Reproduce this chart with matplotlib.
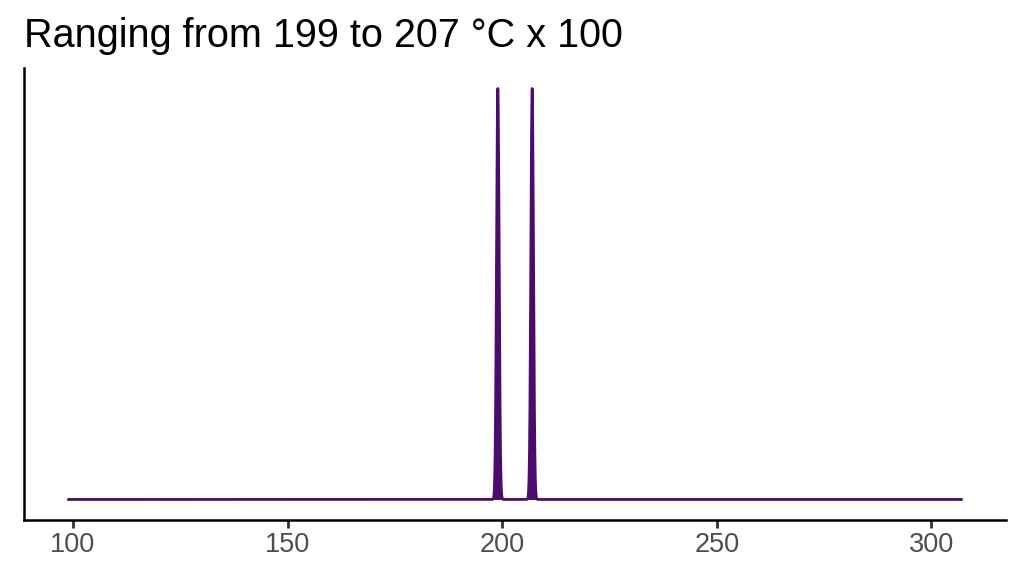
import numpy as np
import matplotlib as mpl
from matplotlib import pyplot as plt

# data: readings in degrees C, drawn as a density
temps = [199, 207]
n_each = 100
x_range = [99, 307]
x_ticks = [100, 150, 200, 250, 300]
title = 'Ranging from 199 to 207 °C x 100'

fill_col = '#4B0C6B'

plt.rcParams['font.family'] = ['Liberation Sans', 'DejaVu Sans']

samples = np.repeat(np.array(temps, dtype=float), n_each)
grid = np.linspace(x_range[0], x_range[1], 4001)
bw = 0.3
dens = np.exp(-0.5 * ((grid[:, None] - samples[None, :]) / bw) ** 2).sum(axis=1)
dens /= len(samples) * bw * np.sqrt(2 * np.pi)

fig = plt.figure(figsize=(10.24, 5.76), dpi=100)
ax = fig.add_axes([24 / 1024, 1 - 520 / 576, (1006 - 24) / 1024, (520 - 68) / 576])

ax.fill_between(grid, 0, dens, color=fill_col, linewidth=0)
ax.plot(grid, dens, color=fill_col, linewidth=2)

span = x_range[1] - x_range[0]
ax.set_xlim(x_range[0] - 0.05 * span, x_range[1] + 0.05 * span)
top = dens.max()
ax.set_ylim(-0.05 * top, top * 1.05)

ax.set_xticks(x_ticks)
ax.set_xticklabels([str(t) for t in x_ticks], fontsize=19.5, color='#4D4D4D')
ax.set_yticks([])
ax.tick_params(axis='x', length=5.5, width=2, color='#333333', pad=3)

for s in ['top', 'right']:
    ax.spines[s].set_visible(False)
for s in ['left', 'bottom']:
    ax.spines[s].set_linewidth(1.8)
    ax.spines[s].set_color('black')

fig.text(24 / 1024, 1 - 47 / 576, title, fontsize=28.5, color='black', ha='left', va='baseline')

plt.savefig('out.png', dpi=100)
plt.close()
